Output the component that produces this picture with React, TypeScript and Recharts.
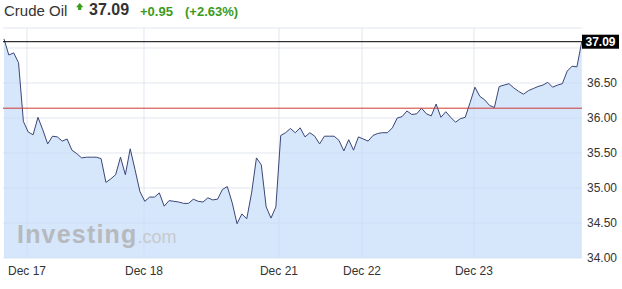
import React from "react";
import { ComposedChart, Area, XAxis, YAxis, CartesianGrid, ReferenceLine } from "recharts";

const prices = [
  37.13, 36.9, 36.93, 36.79, 35.95, 35.8, 35.76, 36.01, 35.83, 35.63,
  35.74, 35.73, 35.67, 35.7, 35.54, 35.49, 35.43, 35.44, 35.44, 35.44,
  35.42, 35.08, 35.13, 35.19, 35.44, 35.19, 35.56, 35.26, 34.95, 34.81,
  34.87, 34.87, 34.93, 34.74, 34.82, 34.81, 34.8, 34.78, 34.78, 34.84,
  34.81, 34.8, 34.86, 34.83, 34.84, 34.98, 35.02, 34.79, 34.49, 34.63,
  34.56, 34.93, 35.43, 35.33, 34.73, 34.57, 34.73, 35.75, 35.79, 35.85,
  35.79, 35.86, 35.73, 35.79, 35.74, 35.63, 35.74, 35.74, 35.74, 35.68,
  35.53, 35.69, 35.54, 35.73, 35.7, 35.67, 35.75, 35.78, 35.79, 35.79,
  35.86, 36.0, 36.02, 36.1, 36.05, 36.06, 36.14, 36.06, 36.03, 36.2,
  36.01, 36.09, 36.01, 35.94, 35.99, 36.01, 36.22, 36.44, 36.31, 36.26,
  36.18, 36.15, 36.45, 36.47, 36.49, 36.43, 36.38, 36.34, 36.39, 36.42,
  36.45, 36.47, 36.51, 36.44, 36.47, 36.49, 36.67, 36.74, 36.73, 37.09,
];

const tickLabels = ["Dec 17", "Dec 18", "Dec 21", "Dec 22", "Dec 23"];
const tickIndex = [4.74, 28.84, 56.64, 73.74, 96.8];
const yTicks = [34, 34.5, 35, 35.5, 36, 36.5, 37];
const yDomain = [34, 37.2857];
const instrument = "Crude Oil";
const lastPrice = 37.09;
const prevClose = 36.14;
const changeText = "+0.95";
const changePctText = "(+2.63%)";

const data = prices.map((p, i) => ({ i, p }));

const FONT = "Arial, 'Liberation Sans', sans-serif";
const GREEN = "#3b9b1b";

const Badge = (props: any) => {
  const vb = props.viewBox || {};
  const x = vb.x + vb.width;
  const y = vb.y;
  return (
    <g>
      <rect x={x} y={y - 7} width={37} height={14} fill="#000" />
      <text
        x={x + 18.5}
        y={y + 4.5}
        fill="#fff"
        fontSize={12}
        fontWeight="bold"
        textAnchor="middle"
        fontFamily={FONT}
      >
        {lastPrice.toFixed(2)}
      </text>
    </g>
  );
};

export default function App() {
  const labelFor = (v: number) => {
    const k = tickIndex.indexOf(v);
    return k >= 0 ? tickLabels[k] : "";
  };
  return (
    <div
      style={{
        position: "absolute",
        left: 0,
        top: 0,
        width: 622,
        height: 289,
        background: "#fff",
        fontFamily: FONT,
        overflow: "hidden",
      }}
    >
      <ComposedChart
        width={622}
        height={289}
        data={data}
        margin={{ top: 28, right: 0, bottom: 0, left: 3 }}
      >
        <CartesianGrid stroke="#e1e6ee" verticalValues={tickIndex} horizontalValues={yTicks} />
        <Area
          type="linear"
          dataKey="p"
          stroke="#3b4677"
          strokeWidth={1}
          fill="#c4dcf9"
          fillOpacity={0.7}
          isAnimationActive={false}
          dot={false}
          activeDot={false}
        />
        <XAxis
          type="number"
          dataKey="i"
          domain={[-0.2, 119.05]}
          allowDataOverflow
          ticks={tickIndex}
          tickFormatter={labelFor}
          axisLine={false}
          tickLine={false}
          height={31}
          tick={{ fill: "#333", fontSize: 12, fontFamily: FONT }}
          interval={0}
        />
        <YAxis
          orientation="right"
          type="number"
          domain={yDomain}
          allowDataOverflow
          ticks={yTicks}
          tickFormatter={(v: number) => (v === 37 ? "" : v.toFixed(2))}
          axisLine={false}
          tickLine={false}
          tickSize={0}
          tickMargin={5}
          width={40}
          tick={{ fill: "#333", fontSize: 12, fontFamily: FONT, textAnchor: "start" }}
          interval={0}
        />
        <ReferenceLine y={yDomain[1]} stroke="#e1e6ee" ifOverflow="extendDomain" />
        <ReferenceLine y={prevClose} stroke="#cc3b33" strokeWidth={1} />
        <ReferenceLine y={lastPrice} stroke="#000" strokeWidth={1} label={<Badge />} />
      </ComposedChart>

      <div
        style={{
          position: "absolute",
          left: 17,
          top: 222,
          lineHeight: "25px",
          whiteSpace: "nowrap",
          pointerEvents: "none",
        }}
      >
        <span style={{ fontSize: 25, fontWeight: "bold", color: "#b6b9be", letterSpacing: 1.2 }}>
          Investing
        </span>
        <span style={{ fontSize: 18, color: "#c6c9cd" }}>.com</span>
      </div>

      <div
        style={{
          position: "absolute",
          left: 4,
          top: 3,
          fontSize: 15,
          lineHeight: "15px",
          color: "#333",
          whiteSpace: "nowrap",
        }}
      >
        {instrument}
      </div>
      <svg
        style={{ position: "absolute", left: 76, top: 2.5 }}
        width={8}
        height={8}
      >
        <polygon points="3.7,0 7.4,4.2 0,4.2" fill={GREEN} />
        <rect x={2.1} y={4} width={3.2} height={3} fill={GREEN} />
      </svg>
      <div
        style={{
          position: "absolute",
          left: 89,
          top: 2,
          fontSize: 16,
          fontWeight: "bold",
          lineHeight: "16px",
          color: "#333",
          whiteSpace: "nowrap",
        }}
      >
        {lastPrice.toFixed(2)}
      </div>
      <div
        style={{
          position: "absolute",
          left: 140,
          top: 4.5,
          fontSize: 13,
          fontWeight: "bold",
          lineHeight: "13px",
          color: GREEN,
          whiteSpace: "nowrap",
        }}
      >
        {changeText}
      </div>
      <div
        style={{
          position: "absolute",
          left: 185,
          top: 4.5,
          fontSize: 13,
          fontWeight: "bold",
          lineHeight: "13px",
          color: GREEN,
          whiteSpace: "nowrap",
        }}
      >
        {changePctText}
      </div>
    </div>
  );
}
